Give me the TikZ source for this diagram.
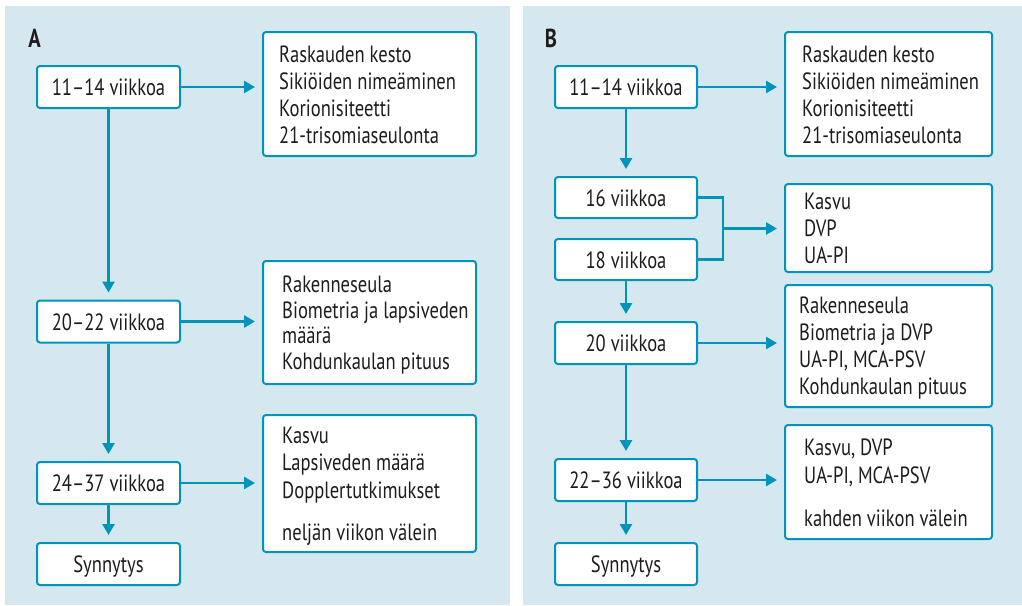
\documentclass[tikz,border=0pt]{standalone}
\usepackage{fontspec}
\setmainfont[FakeStretch=0.79]{PT Sans}
\usetikzlibrary{arrows.meta,calc}
\definecolor{bgblue}{RGB}{213,232,239}
\definecolor{tealc}{RGB}{0,148,186}
\definecolor{txtc}{RGB}{30,28,28}
\newcommand\fsz{\fontsize{23.5}{27}\selectfont}
\tikzset{
  box/.style={draw=tealc, line width=2pt, fill=white, rounded corners=3pt, inner sep=0pt},
  lbox/.style={box, minimum width=143pt, minimum height=42pt, font=\fsz, text=txtc, text height=17pt, text depth=0pt},
  tline/.style={anchor=base west, inner sep=0pt, font=\fsz, text=txtc},
  conn/.style={draw=tealc, line width=2.6pt},
  arr/.style={conn, -{Triangle[width=12pt,length=11pt]}, shorten >=7pt},
  plabel/.style={inner sep=0pt, anchor=base, font=\fontsize{26}{30}\selectfont\bfseries, text=txtc}
}
\begin{document}
\begin{tikzpicture}[x=1pt,y=-1pt]
\path[use as bounding box] (0,0) rectangle (1022,605);
\fill[bgblue] (5,6) rectangle (510,605);
\fill[bgblue] (523,6) rectangle (1022,605);

% ---------- Panel A ----------
\node[plabel] (labA) at (34.5,47) {A};
\node[lbox] (a1) at (108.5,87) {11–14 viikkoa};
\node[lbox] (a2) at (108.5,321.5) {20–22 viikkoa};
\node[lbox] (a3) at (108.5,483) {24–37 viikkoa};
\node[lbox] (a4) at (108.5,564) {Synnytys};

\node[box, minimum width=213pt, minimum height=124pt] (ar1) at (369.5,94) {};
\node[tline] (ar1a) at (279,62) {Raskauden kesto};
\node[tline] (ar1b) at (279,89) {Sikiöiden nimeäminen};
\node[tline] (ar1c) at (279,116) {Korionisiteetti};
\node[tline] (ar1d) at (279,143) {21-trisomiaseulonta};

\node[box, minimum width=213pt, minimum height=123pt] (ar2) at (369.5,322.5) {};
\node[tline] (ar2a) at (282,292) {Rakenneseula};
\node[tline] (ar2b) at (282,318) {Biometria ja lapsiveden};
\node[tline] (ar2c) at (282,343.5) {määrä};
\node[tline] (ar2d) at (282,369.5) {Kohdunkaulan pituus};

\node[box, minimum width=213pt, minimum height=137pt] (ar3) at (369.5,483.5) {};
\node[tline] (ar3a) at (282,443) {Kasvu};
\node[tline] (ar3b) at (282,470.5) {Lapsiveden määrä};
\node[tline] (ar3c) at (282,498) {Dopplertutkimukset};
\node[tline] (ar3d) at (282,540.5) {neljän viikon välein};

\draw[arr] (a1.east) -- (a1.east -| ar1.west);
\draw[arr] (a2.east) -- (a2.east -| ar2.west);
\draw[arr] (a3.east) -- (a3.east -| ar3.west);
\draw[arr] (a1.south) -- (a2.north);
\draw[arr] (a2.south) -- (a3.north);
\draw[arr] (a3.south) -- (a4.north);

% ---------- Panel B ----------
\node[plabel] (labB) at (551,47) {B};
\node[lbox, minimum width=142pt] (b1) at (626,87) {11–14 viikkoa};
\node[lbox, minimum width=142pt, minimum height=41pt] (b2) at (626,197.5) {16 viikkoa};
\node[lbox, minimum width=142pt, minimum height=41pt] (b3) at (626,259.5) {18 viikkoa};
\node[lbox, minimum width=142pt] (b4) at (626,343) {20 viikkoa};
\node[lbox, minimum width=142pt] (b5) at (626,480) {22–36 viikkoa};
\node[lbox, minimum width=142pt] (b6) at (626,564) {Synnytys};

\node[box, minimum width=207pt, minimum height=124pt] (br1) at (888.5,94) {};
\node[tline] (br1a) at (802,62) {Raskauden kesto};
\node[tline] (br1b) at (802,89) {Sikiöiden nimeäminen};
\node[tline] (br1c) at (802,116) {Korionisiteetti};
\node[tline] (br1d) at (802,143) {21-trisomiaseulonta};

\node[box, minimum width=207pt, minimum height=88pt] (br2) at (888.5,228) {};
\node[tline] (br2a) at (804,209.5) {Kasvu};
\node[tline] (br2b) at (804,236.5) {DVP};
\node[tline] (br2c) at (804,263.5) {UA-PI};

\node[box, minimum width=207pt, minimum height=122pt] (br3) at (888.5,346) {};
\node[tline] (br3a) at (799,313) {Rakenneseula};
\node[tline] (br3b) at (799,340) {Biometria ja DVP};
\node[tline] (br3c) at (799,367) {UA-PI, MCA-PSV};
\node[tline] (br3d) at (799,394) {Kohdunkaulan pituus};

\node[box, minimum width=207pt, minimum height=114pt] (br4) at (888.5,482) {};
\node[tline] (br4a) at (804,455.5) {Kasvu, DVP};
\node[tline] (br4b) at (804,483) {UA-PI, MCA-PSV};
\node[tline] (br4c) at (804,526) {kahden viikon välein};

\draw[arr] (b1.east) -- (b1.east -| br1.west);
\draw[arr] (b4.east) -- (b4.east -| br3.west);
\draw[arr] (b5.east) -- (b5.east -| br4.west);
\draw[arr] (b1.south) -- (b2.north);
\draw[arr] (b3.south) -- (b4.north);
\draw[arr] (b4.south) -- (b5.north);
\draw[arr] (b5.south) -- (b6.north);

\draw[conn, line width=2.4pt] (b2.east) -- ++(25,0) |- (b3.east);
\coordinate (bj) at ($(b2.east)!0.5!(b3.east) + (25,0)$);
\draw[arr] (bj) -- (bj -| br2.west);
\end{tikzpicture}
\end{document}
